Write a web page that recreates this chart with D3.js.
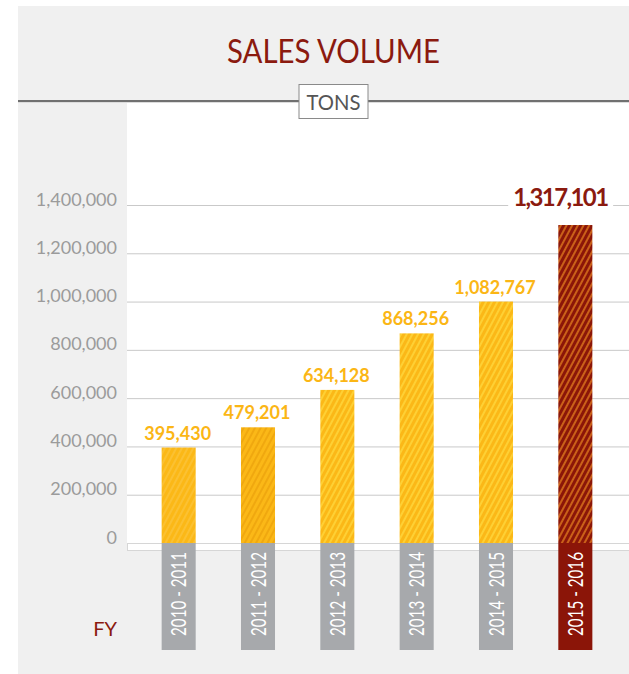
<!DOCTYPE html>
<html>
<head>
<meta charset="utf-8">
<script src="https://cdn.jsdelivr.net/npm/d3@7/dist/d3.min.js"></script>
<style>
  html, body { margin: 0; padding: 0; background: #ffffff; }
  svg { display: block; }
</style>
</head>
<body>
<svg id="chart" width="629" height="674"></svg>
<script>
// ---------- DATA ----------
const categories = ["2010 - 2011", "2011 - 2012", "2012 - 2013", "2013 - 2014", "2014 - 2015", "2015 - 2016"];
const salesTons = [395430, 479201, 634128, 868256, 1082767, 1317101];          // value labels
const drawnTons = [395430, 479201, 634128, 868256, 1000000, 1317101];          // bar heights as drawn in the reference
const yTicks = [0, 200000, 400000, 600000, 800000, 1000000, 1200000, 1400000];
const titleText = "SALES VOLUME";
const unitText = "TONS";
const axisLabel = "FY";

// ---------- STYLES ----------
const W = 629, H = 674;
const panel = { x: 18, y: 6 };
const plot = { left: 127, top: 103, right: 629 };
const red = "#8b1a0f";
const yellow = "#fbb817";
const grey = "#a7a9ac";
const barStyles = [
  { base: yellow, stripe: "#fcc43a" },
  { base: yellow, stripe: "#eda30c" },
  { base: yellow, stripe: "#ffd93d" },
  { base: yellow, stripe: "#ffd93d" },
  { base: yellow, stripe: "#ffd93d" },
  { base: "#8b1608", stripe: "#df7a1e" }
];

const svg = d3.select("#chart");
const defs = svg.append("defs");
barStyles.forEach((s, i) => {
  const p = defs.append("pattern")
    .attr("id", "hatch" + i)
    .attr("patternUnits", "userSpaceOnUse")
    .attr("width", 5).attr("height", 5)
    .attr("patternTransform", "rotate(28)");
  p.append("rect").attr("width", 5).attr("height", 5).attr("fill", s.base);
  p.append("line").attr("x1", 1).attr("y1", 0).attr("x2", 1).attr("y2", 5)
    .attr("stroke", s.stripe).attr("stroke-width", 1.5);
});

// background panel
svg.append("rect").attr("x", 0).attr("y", 0).attr("width", W).attr("height", H).attr("fill", "#ffffff");
svg.append("rect").attr("x", panel.x).attr("y", panel.y).attr("width", W - panel.x).attr("height", H - panel.y).attr("fill", "#f0f0f0");

// scales
const y = d3.scaleLinear().domain([0, 1400000]).range([543, 205]);
const x = d3.scaleBand().domain(categories).range([139, 615]).paddingInner(0.571).paddingOuter(0.2855);

// white plot area
svg.append("rect").attr("x", plot.left).attr("y", plot.top)
  .attr("width", plot.right - plot.left).attr("height", y(0) + 7 - plot.top).attr("fill", "#ffffff");

// header line
svg.append("line").attr("x1", panel.x).attr("x2", W).attr("y1", 101).attr("y2", 101)
  .attr("stroke", "#707070").attr("stroke-width", 2);
svg.append("line").attr("x1", panel.x).attr("x2", W).attr("y1", 102.5).attr("y2", 102.5)
  .attr("stroke", "#dcdcdc").attr("stroke-width", 1);

// title
const cx = 333.5;
svg.append("text").attr("x", cx).attr("y", 63)
  .attr("text-anchor", "middle")
  .attr("font-family", "Lato, 'Open Sans', sans-serif")
  .attr("font-size", 33)
  .attr("fill", red)
  .attr("textLength", 213).attr("lengthAdjust", "spacingAndGlyphs")
  .text(titleText);

// unit box
svg.append("rect").attr("x", 299).attr("y", 84.5).attr("width", 69).attr("height", 34)
  .attr("fill", "#ffffff").attr("stroke", "#8a8a8a").attr("stroke-width", 1);
svg.append("text").attr("x", cx).attr("y", 110)
  .attr("text-anchor", "middle")
  .attr("font-family", "Lato, 'Open Sans', sans-serif")
  .attr("font-size", 21)
  .attr("fill", "#555555")
  .attr("textLength", 54).attr("lengthAdjust", "spacingAndGlyphs")
  .text(unitText);

// y axis with gridlines
const yAxis = d3.axisLeft(y).tickValues(yTicks).tickFormat(d3.format(","))
  .tickSize(-(plot.right - plot.left)).tickPadding(10);
const gy = svg.append("g").attr("transform", `translate(${plot.left},0)`).call(yAxis);
gy.select(".domain").remove();
gy.selectAll(".tick line").attr("stroke", "#c9c9c9").attr("stroke-width", 1);
gy.selectAll(".tick text")
  .attr("dy", "0")
  .attr("font-family", "Lato, 'Open Sans', sans-serif")
  .attr("font-size", 18)
  .attr("font-weight", 400)
  .attr("fill", "#9b9b9b");

// base strip
svg.append("rect").attr("x", plot.left + 0.5).attr("y", y(0) + 0.5)
  .attr("width", plot.right - plot.left).attr("height", 7)
  .attr("fill", "#ffffff").attr("stroke", "#d6d6d6").attr("stroke-width", 1);

// bars
svg.append("g").selectAll("rect").data(drawnTons).join("rect")
  .attr("x", (d, i) => x(categories[i]))
  .attr("y", d => y(d))
  .attr("width", x.bandwidth())
  .attr("height", d => y(0) - y(d))
  .attr("fill", (d, i) => `url(#hatch${i})`);

// category boxes
const last = categories.length - 1;
svg.append("g").selectAll("rect").data(categories).join("rect")
  .attr("x", d => x(d))
  .attr("y", y(0))
  .attr("width", x.bandwidth())
  .attr("height", 650 - y(0))
  .attr("fill", (d, i) => i === last ? "#8b1508" : grey);
svg.append("g").selectAll("text").data(categories).join("text")
  .attr("transform", d => `translate(${x(d) + x.bandwidth() / 2 - 1},${594}) rotate(-90)`)
  .attr("text-anchor", "middle")
  .attr("dominant-baseline", "central")
  .attr("font-family", "Lato, 'Open Sans', sans-serif")
  .attr("font-size", 21)
  .attr("fill", "#ffffff")
  .attr("textLength", 84).attr("lengthAdjust", "spacingAndGlyphs")
  .text(d => d);

// value labels
const fmt = d3.format(",");
salesTons.forEach((v, i) => {
  const isLast = i === last;
  const bx = x(categories[i]) + x.bandwidth() / 2;
  if (isLast) {
    const t = svg.append("text")
      .attr("x", bx - 15).attr("y", y(drawnTons[i]) - 19)
      .attr("text-anchor", "middle")
      .attr("font-family", "Lato, 'Open Sans', sans-serif")
      .attr("font-size", 24).attr("font-weight", 700)
      .attr("letter-spacing", -1.6)
      .attr("fill", red)
      .text(fmt(v));
    const bb = t.node().getBBox();
    svg.insert("rect", () => t.node())
      .attr("x", bb.x - 5).attr("y", y(1400000) - 2).attr("width", bb.width + 10).attr("height", 4)
      .attr("fill", "#ffffff");
  } else {
    svg.append("text")
      .attr("x", bx - 1).attr("y", y(drawnTons[i]) - 8)
      .attr("text-anchor", "middle")
      .attr("font-family", "Lato, 'Open Sans', sans-serif")
      .attr("font-size", 18).attr("font-weight", 700)
      .attr("fill", "#fbb615")
      .text(fmt(v));
  }
});

// FY label
svg.append("text").attr("x", 117).attr("y", 636)
  .attr("text-anchor", "end")
  .attr("font-family", "Lato, 'Open Sans', sans-serif")
  .attr("font-size", 20)
  .attr("fill", red)
  .text(axisLabel);
</script>
</body>
</html>
